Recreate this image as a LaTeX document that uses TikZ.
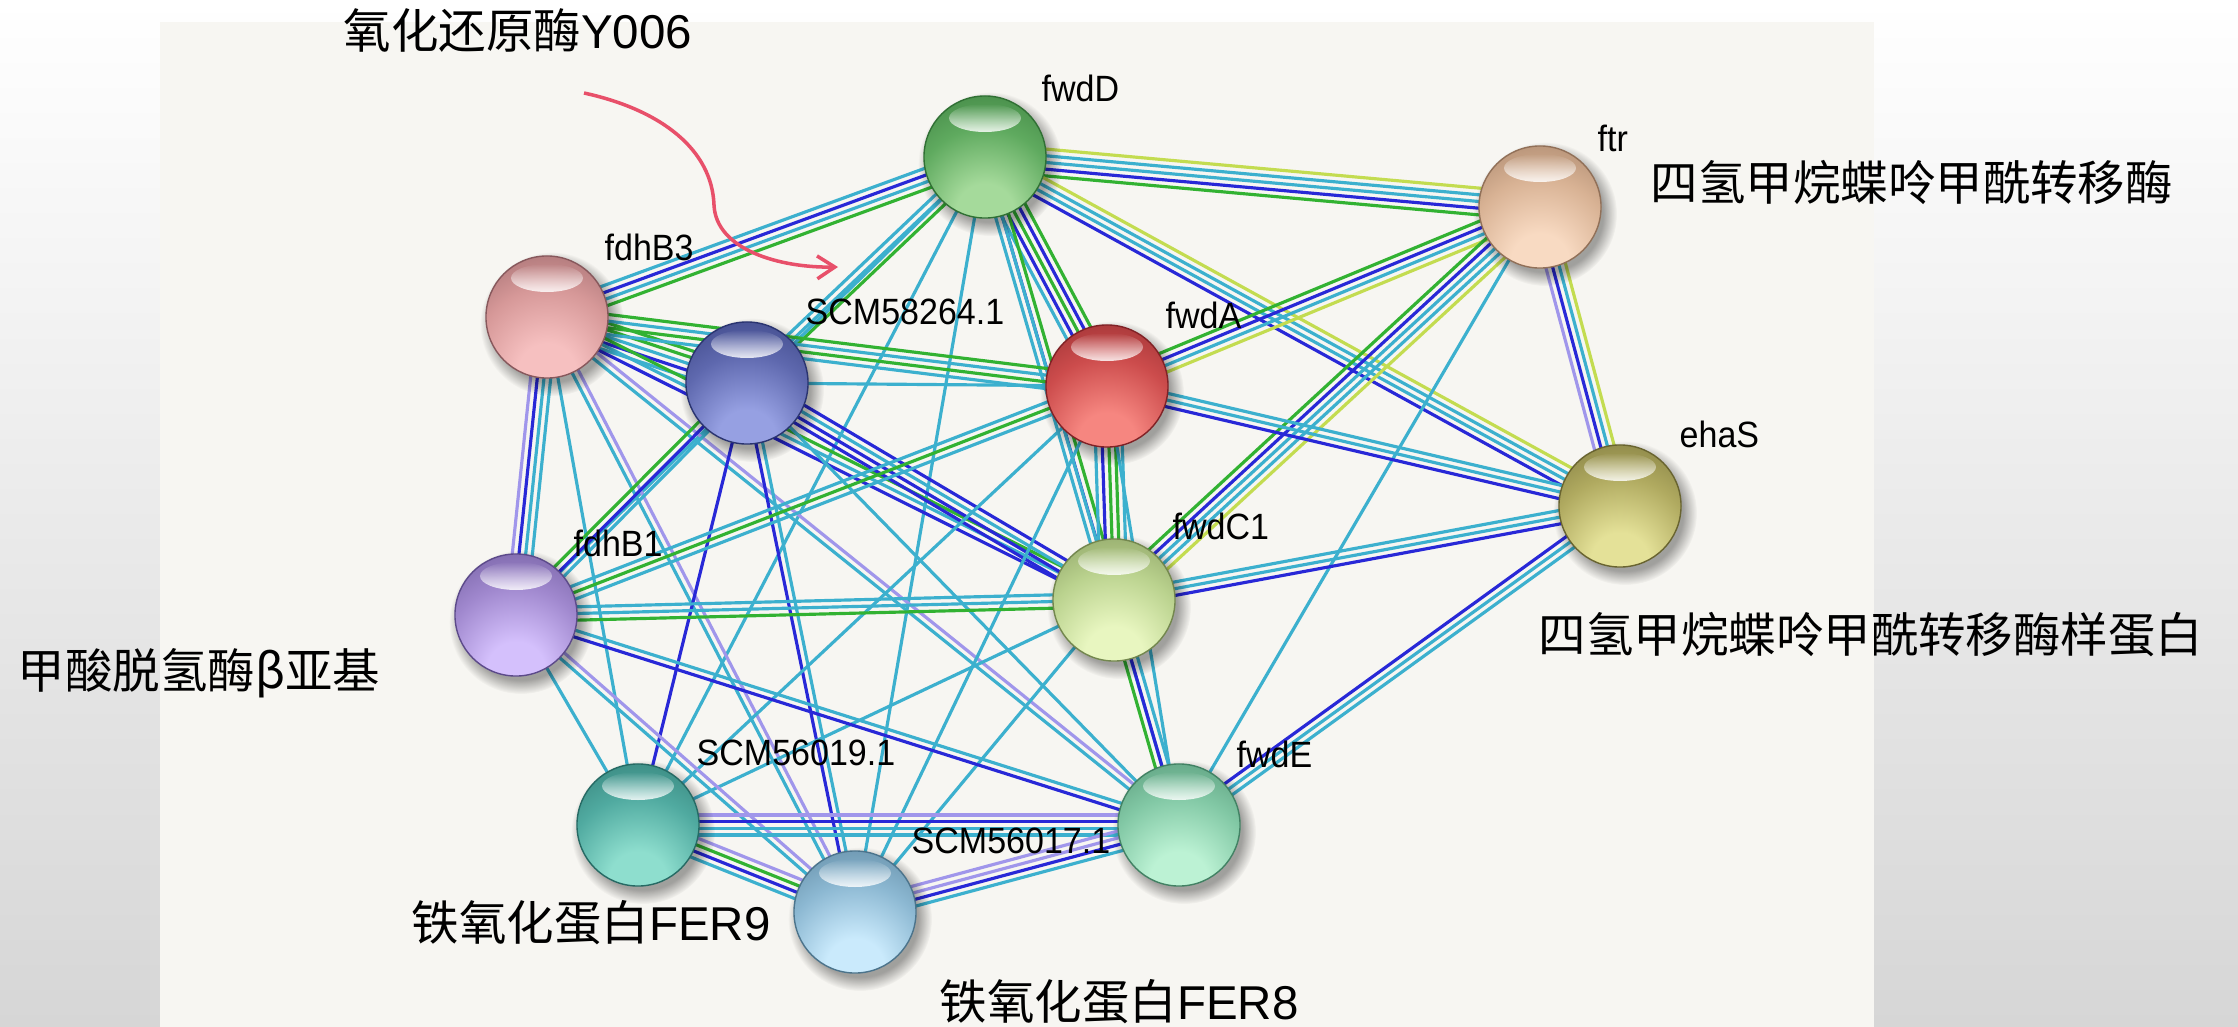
\documentclass[tikz,border=0pt]{standalone}
\usepackage{fontspec}
\setmainfont{Liberation Sans}
\newfontfamily\cjk{Noto Sans CJK SC}
\newfontfamily\labfont[FakeStretch=0.93]{Liberation Sans}
\usetikzlibrary{calc,fadings,arrows.meta}

% evidence line colours
\definecolor{lkcy}{RGB}{60,176,206}
\definecolor{lkbl}{RGB}{40,40,215}
\definecolor{lkgr}{RGB}{50,178,50}
\definecolor{lkyl}{RGB}{195,220,80}
\definecolor{lklv}{RGB}{160,150,235}
\definecolor{panelc}{RGB}{247,246,242}
\definecolor{bggray}{RGB}{214,214,214}
\definecolor{arrowc}{RGB}{232,80,106}

\pgfdeclarelayer{back}
\pgfdeclarelayer{links}
\pgfsetlayers{back,links,main}

% glossy sphere body: light spot low in the ball, dark towards the top rim
\colorlet{ballhi}{white}\colorlet{ballmid}{gray}\colorlet{balllo}{black}
\pgfdeclareradialshading[ballhi,ballmid,balllo]{sphere}{\pgfpoint{0bp}{-26bp}}{%
  color(0bp)=(ballhi); color(12bp)=(ballhi); color(30bp)=(ballmid);
  color(56bp)=(balllo); color(100bp)=(balllo)}

\def\linkgap{1.9}
% a bundle of parallel evidence lines between two nodes
\newcommand\linkbundle[3]{%
  \gdef\nlk{0}%
  \foreach \lkc in {#3}{\xdef\nlk{\the\numexpr\nlk+1\relax}}%
  \foreach \lkc [count=\lki] in {#3}{%
    \pgfmathsetmacro\lkoff{(\lki-1-(\nlk-1)/2)*\linkgap}%
    \draw[link,\lkc] ($(#1)!\lkoff pt!90:(#2)$) -- ($(#2)!\lkoff pt!-90:(#1)$);
  }%
}

% protein node: shadow, shaded ball, top highlight
\newcommand\protein[6]{%
  \colorlet{ballhi}{#4}\colorlet{ballmid}{#5}\colorlet{balllo}{#6}%
  \fill[black, opacity=.35, path fading=circle with fuzzy edge 20 percent] (#2+5,#3-7) circle (72);
  \node[ball] (#1) at (#2,#3) {};
  \fill[white, opacity=.85, path fading=north] (#2,#3+39) ellipse (36 and 14);
}

\tikzset{
  link/.style={line width=0.9pt},
  ball/.style={circle, inner sep=0pt, minimum size=1.22cm, shade, shading=sphere,
               draw=balllo, line width=0.4pt},
  lab/.style={anchor=west, inner sep=0pt, font=\labfont\fontsize{10.4pt}{12pt}\selectfont, text=black},
  cjklab/.style={anchor=west, inner sep=0pt, font=\cjk\fontsize{13.5pt}{16pt}\selectfont, text=black},
  pinkarrow/.style={draw=arrowc, line width=1pt, -{Straight Barb[length=5pt,width=6.5pt]}}
}
% Latin part of the Chinese annotations
\newcommand\lat[1]{{\rmfamily #1}}

\begin{document}
\begin{tikzpicture}[x=0.01cm, y=0.01cm]
\useasboundingbox (0,0) rectangle (2238,-1027);

\begin{pgfonlayer}{back}
  \shade[top color=white, bottom color=bggray] (0,0) rectangle (2238,-1027);
  \fill[panelc] (160,-22) rectangle (1874,-1027);
\end{pgfonlayer}

% proteins
\protein{fwdD}{985}{-157}{rgb,255:red,165;green,218;blue,155}{rgb,255:red,95;green,170;blue,95}{rgb,255:red,48;green,112;blue,52}
\protein{ftr}{1540}{-207}{rgb,255:red,248;green,218;blue,194}{rgb,255:red,216;green,178;blue,148}{rgb,255:red,145;green,112;blue,88}
\protein{fdhB3}{547}{-317}{rgb,255:red,246;green,192;blue,192}{rgb,255:red,214;green,152;blue,152}{rgb,255:red,135;green,88;blue,92}
\protein{S58}{747}{-383}{rgb,255:red,150;green,160;blue,226}{rgb,255:red,94;green,104;blue,174}{rgb,255:red,42;green,52;blue,112}
\protein{fwdA}{1107}{-386}{rgb,255:red,246;green,134;blue,128}{rgb,255:red,204;green,76;blue,76}{rgb,255:red,128;green,34;blue,38}
\protein{ehaS}{1620}{-506}{rgb,255:red,228;green,225;blue,152}{rgb,255:red,176;green,170;blue,96}{rgb,255:red,105;green,100;blue,48}
\protein{fdhB1}{516}{-615}{rgb,255:red,212;green,192;blue,252}{rgb,255:red,160;green,136;blue,206}{rgb,255:red,92;green,74;blue,138}
\protein{fwdC1}{1114}{-600}{rgb,255:red,232;green,246;blue,192}{rgb,255:red,186;green,210;blue,142}{rgb,255:red,115;green,135;blue,78}
\protein{S19}{638}{-825}{rgb,255:red,142;green,222;blue,206}{rgb,255:red,80;green,170;blue,160}{rgb,255:red,38;green,106;blue,100}
\protein{fwdE}{1179}{-825}{rgb,255:red,188;green,242;blue,212}{rgb,255:red,130;green,200;blue,165}{rgb,255:red,66;green,130;blue,100}
\protein{S17}{855}{-912}{rgb,255:red,202;green,234;blue,252}{rgb,255:red,140;green,184;blue,210}{rgb,255:red,76;green,116;blue,140}

% interaction evidence
\begin{pgfonlayer}{links}
  \linkbundle{fwdD}{ftr}{lkgr,lkbl,lkcy,lkcy,lkyl}
  \linkbundle{fwdD}{fdhB3}{lkcy,lkbl,lkcy,lkgr}
  \linkbundle{fwdD}{S58}{lkcy,lkcy,lkgr}
  \linkbundle{fwdD}{fwdA}{lkcy,lkbl,lkgr,lkbl,lkgr}
  \linkbundle{fwdD}{fwdC1}{lkcy,lkbl,lkgr}
  \linkbundle{fwdD}{ehaS}{lkbl,lkcy,lkcy,lkyl}
  \linkbundle{fwdD}{S19}{lkcy}
  \linkbundle{fwdD}{S17}{lkcy}
  \linkbundle{fwdD}{fdhB1}{lkcy}
  \linkbundle{fwdD}{fwdE}{lkcy}
  \linkbundle{ftr}{fwdA}{lkgr,lkbl,lkcy,lkyl}
  \linkbundle{ftr}{fwdC1}{lkgr,lkbl,lkcy,lkcy,lkyl}
  \linkbundle{ftr}{ehaS}{lklv,lkbl,lkcy,lkyl}
  \linkbundle{ftr}{fwdE}{lkcy}
  \linkbundle{fwdA}{ehaS}{lkbl,lkcy,lkcy}
  \linkbundle{fwdC1}{ehaS}{lkbl,lkcy,lkcy}
  \linkbundle{ehaS}{fwdE}{lkbl,lkcy,lkcy}
  \linkbundle{fdhB3}{S58}{lkcy,lkbl,lkcy,lkgr,lkgr}
  \linkbundle{fdhB3}{fwdA}{lkcy,lkgr,lkcy,lkgr}
  \linkbundle{fdhB3}{fwdC1}{lkbl,lkcy,lkgr}
  \linkbundle{fdhB3}{fdhB1}{lklv,lkbl,lkcy,lkcy}
  \linkbundle{fdhB3}{S19}{lkcy}
  \linkbundle{fdhB3}{S17}{lkcy,lklv}
  \linkbundle{fdhB3}{fwdE}{lkcy,lklv}
  \linkbundle{S58}{fwdA}{lkcy}
  \linkbundle{S58}{fwdC1}{lkbl,lkbl,lkcy,lkbl}
  \linkbundle{S58}{fdhB1}{lkgr,lkbl,lkcy}
  \linkbundle{S58}{S19}{lkbl}
  \linkbundle{S58}{S17}{lkbl,lkcy}
  \linkbundle{S58}{fwdE}{lkcy}
  \linkbundle{fwdA}{fwdC1}{lkcy,lkbl,lkgr,lkgr,lkcy}
  \linkbundle{fwdA}{fdhB1}{lkcy,lkgr,lkcy}
  \linkbundle{fwdA}{S19}{lkcy}
  \linkbundle{fwdA}{S17}{lkcy}
  \linkbundle{fwdA}{fwdE}{lkcy}
  \linkbundle{fwdC1}{fdhB1}{lkcy,lkcy,lkgr}
  \linkbundle{fwdC1}{fwdE}{lkgr,lkbl,lkcy}
  \linkbundle{fwdC1}{S19}{lkcy}
  \linkbundle{fwdC1}{S17}{lkcy}
  \linkbundle{fdhB1}{fwdE}{lkbl,lkcy}
  \linkbundle{fdhB1}{S19}{lkcy}
  \linkbundle{fdhB1}{S17}{lkcy,lklv}
  \linkbundle{S19}{fwdE}{lkcy,lkcy,lkbl,lklv}
  \linkbundle{S19}{S17}{lkcy,lkbl,lkgr,lklv}
  \linkbundle{S17}{fwdE}{lkcy,lkbl,lklv,lklv}
\end{pgfonlayer}

% protein names
\node[lab] (l-fwdD)  at (1041,-88)  {fwdD};
\node[lab] (l-ftr)   at (1597,-138) {ftr};
\node[lab] (l-fdhB3) at (604,-247)  {fdhB3};
\node[lab] (l-S58)   at (805,-312)  {SCM58264.1};
\node[lab] (l-fwdA)  at (1165,-315) {fwdA};
\node[lab] (l-ehaS)  at (1679,-434) {ehaS};
\node[lab] (l-fdhB1) at (573,-543)  {fdhB1};
\node[lab] (l-fwdC1) at (1172,-526) {fwdC1};
\node[lab] (l-S19)   at (696,-753)  {SCM56019.1};
\node[lab] (l-fwdE)  at (1236,-754) {fwdE};
\node[lab] (l-S17)   at (911,-841)  {SCM56017.1};

% Chinese annotations
\node[cjklab] (n-redox) at (343,-31)   {氧化还原酶\lat{Y006}};
\node[cjklab] (n-ftr)   at (1650,-182) {四氢甲烷蝶呤甲酰转移酶};
\node[cjklab] (n-ehaS)  at (1538,-635) {四氢甲烷蝶呤甲酰转移酶样蛋白};
\node[cjklab] (n-fdhB1) at (17,-673)   {甲酸脱氢酶β亚基};
\node[cjklab] (n-fer9)  at (411,-923)  {铁氧化蛋白\lat{FER9}};
\node[cjklab] (n-fer8)  at (939,-1002) {铁氧化蛋白\lat{FER8}};

% pointer to SCM58264.1
\coordinate (arrS) at (584,-93);
\coordinate (arrE) at (838,-267);
\draw[pinkarrow] (arrS) .. controls (662,-110) and (712,-150) .. (714,-205)
                        .. controls (716,-250) and (780,-268) .. (arrE);
\end{tikzpicture}
\end{document}
